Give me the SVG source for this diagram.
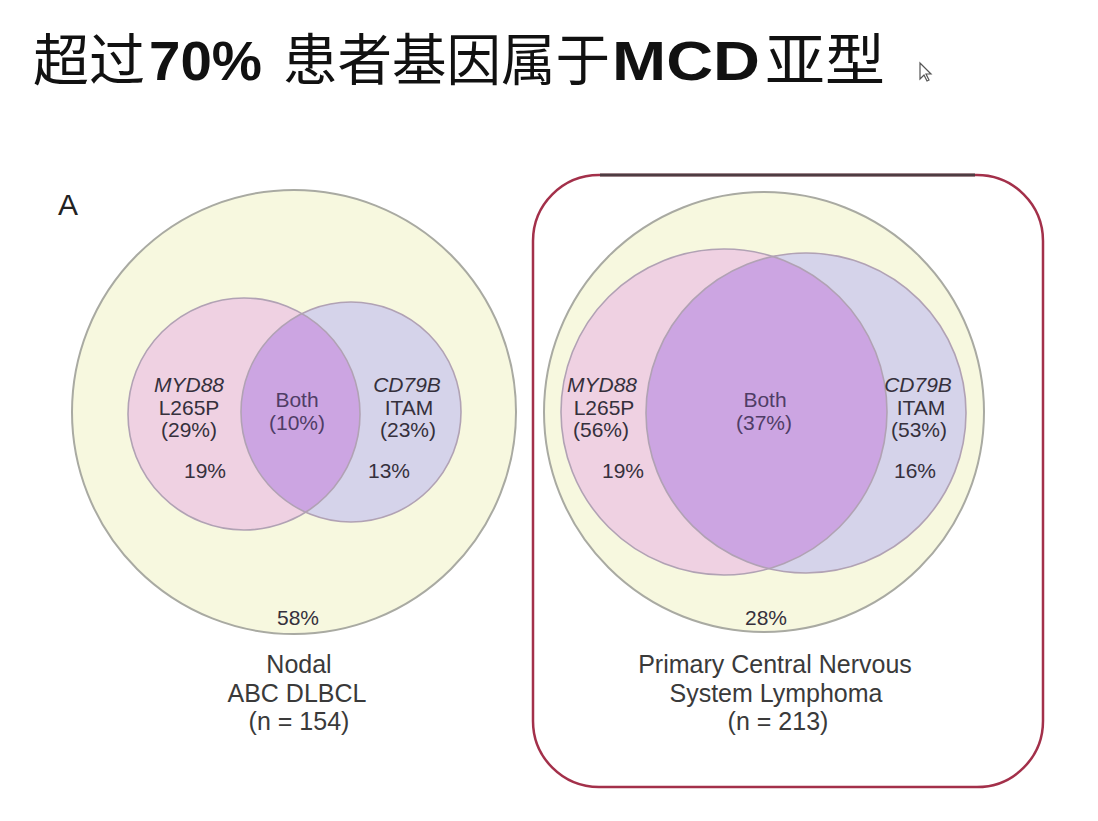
<svg xmlns="http://www.w3.org/2000/svg" width="1098" height="821" viewBox="0 0 1098 821">
<style>
.outer{fill:#f7f8df;stroke:#a9aaa2;stroke-width:2}
.pink{fill:#efd1e2}
.blue{fill:#d5d3ea}
.lens{fill:#cca5e2}
.edge{fill:none;stroke:#b1a2b4;stroke-width:1.6}
.lbl{font-family:"Liberation Sans",Arial,sans-serif;font-size:21px;fill:#35303c;text-anchor:middle}
.it{font-style:italic}
.both{fill:#4f3d66}
.cap{font-family:"Liberation Sans",Arial,sans-serif;font-size:25px;fill:#3a3a3a;text-anchor:middle}
.title{font-family:"Liberation Sans","Noto Sans CJK SC",sans-serif;font-size:56px;fill:#111}
.b{font-weight:bold}
</style>
<defs>
<clipPath id="clipL"><circle cx="244" cy="414" r="116"/></clipPath>
<clipPath id="clipR"><circle cx="724" cy="412" r="163"/></clipPath>
</defs>
<rect width="1098" height="821" fill="#ffffff"/>

<g id="title">
<text class="title" y="80"><tspan x="33" textLength="112" lengthAdjust="spacingAndGlyphs">超过</tspan><tspan class="b" x="149" textLength="113" lengthAdjust="spacingAndGlyphs">70%</tspan><tspan x="283" textLength="327" lengthAdjust="spacingAndGlyphs">患者基因属于</tspan><tspan class="b" x="612" textLength="148" lengthAdjust="spacingAndGlyphs">MCD</tspan><tspan x="765" textLength="120" lengthAdjust="spacingAndGlyphs">亚型</tspan></text>
<path d="M920 63 L920 79 L924 75 L927 81 L929 80 L926 74 L931 74 Z" fill="#fff" stroke="#555" stroke-width="1.2"/>
</g>

<g id="panel-label"><text x="68" y="215" font-family="'Liberation Sans',Arial,sans-serif" font-size="30" fill="#222" text-anchor="middle">A</text></g>

<g id="venn-nodal">
<circle class="outer" cx="294" cy="412" r="222"/>
<circle class="pink" cx="244" cy="414" r="116"/>
<circle class="blue" cx="351" cy="412" r="110"/>
<circle class="lens" cx="351" cy="412" r="110" clip-path="url(#clipL)"/>
<circle class="edge" cx="244" cy="414" r="116"/>
<circle class="edge" cx="351" cy="412" r="110"/>
<text class="lbl" y="392"><tspan class="it" x="189">MYD88</tspan><tspan x="189" dy="22.5">L265P</tspan><tspan x="189" dy="22.5">(29%)</tspan></text>
<text class="lbl" x="205" y="478">19%</text>
<text class="lbl both" y="407"><tspan x="297">Both</tspan><tspan x="297" dy="22.5">(10%)</tspan></text>
<text class="lbl" y="392"><tspan class="it" x="407">CD79B</tspan><tspan x="409" dy="22.5">ITAM</tspan><tspan x="408" dy="22.5">(23%)</tspan></text>
<text class="lbl" x="389" y="478">13%</text>
<text class="lbl" x="298" y="625">58%</text>
<text class="cap" y="673"><tspan x="299">Nodal</tspan><tspan x="297" dy="28.5">ABC DLBCL</tspan><tspan x="299" dy="28.5">(n = 154)</tspan></text>
</g>

<g id="venn-pcnsl">
<rect x="533" y="175" width="510" height="612" rx="66" ry="66" fill="none" stroke="#a3304a" stroke-width="2.5"/>
<line x1="600" y1="175" x2="975" y2="175" stroke="#4e3c42" stroke-width="3"/>
<circle class="outer" cx="764" cy="412" r="220"/>
<circle class="pink" cx="724" cy="412" r="163"/>
<circle class="blue" cx="806" cy="413" r="160"/>
<circle class="lens" cx="806" cy="413" r="160" clip-path="url(#clipR)"/>
<circle class="edge" cx="724" cy="412" r="163"/>
<circle class="edge" cx="806" cy="413" r="160"/>
<text class="lbl" y="392"><tspan class="it" x="602">MYD88</tspan><tspan x="604" dy="22.5">L265P</tspan><tspan x="601" dy="22.5">(56%)</tspan></text>
<text class="lbl" x="623" y="478">19%</text>
<text class="lbl both" y="407"><tspan x="765">Both</tspan><tspan x="764" dy="22.5">(37%)</tspan></text>
<text class="lbl" y="392"><tspan class="it" x="918">CD79B</tspan><tspan x="921" dy="22.5">ITAM</tspan><tspan x="919" dy="22.5">(53%)</tspan></text>
<text class="lbl" x="915" y="478">16%</text>
<text class="lbl" x="766" y="625">28%</text>
<text class="cap" y="673"><tspan x="775">Primary Central Nervous</tspan><tspan x="776" dy="28.5">System Lymphoma</tspan><tspan x="778" dy="28.5">(n = 213)</tspan></text>
</g>
</svg>
